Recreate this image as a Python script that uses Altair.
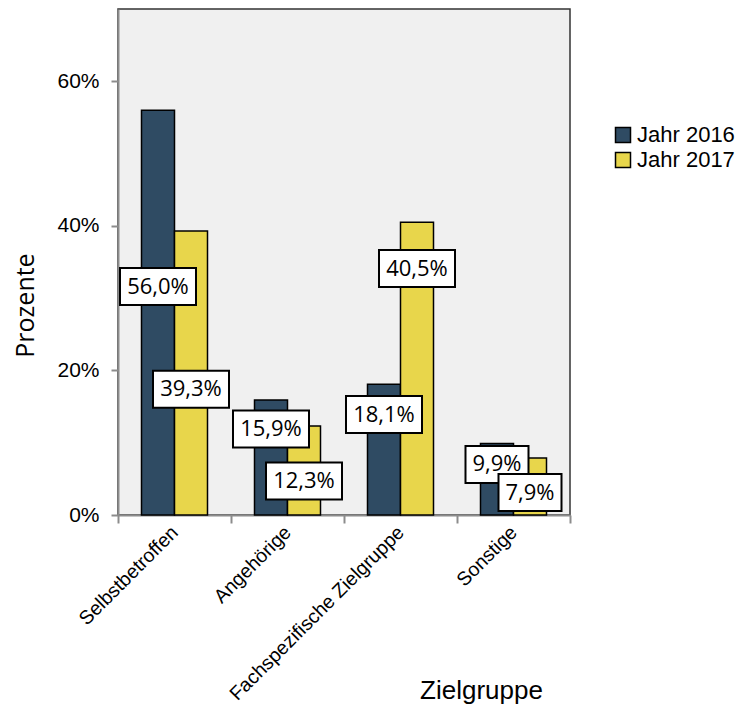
import altair as alt
import pandas as pd

categories = ["Selbstbetroffen", "Angehörige", "Fachspezifische Zielgruppe", "Sonstige"]
series = ["Jahr 2016", "Jahr 2017"]
values_2016 = [56.0, 15.9, 18.1, 9.9]
values_2017 = [39.3, 12.3, 40.5, 7.9]
# where the value boxes sit (in percent units)
label_y_2016 = [31.6, 11.9, 13.9, 7.0]
label_y_2017 = [17.4, 4.7, 34.1, 3.1]
y_ticks = [0, 20, 40, 60]

rows = []
for i, c in enumerate(categories):
    for s, vals, ly in ((series[0], values_2016, label_y_2016), (series[1], values_2017, label_y_2017)):
        v = vals[i]
        txt = f"{v:.1f}".replace(".", ",") + "%"
        rows.append({"Zielgruppe": c, "Jahr": s, "Wert": v, "LabelY": ly[i],
                     "Text": txt, "short": len(txt) <= 4})
df = pd.DataFrame(rows)

x_enc = alt.X("Zielgruppe:N", sort=categories, title="Zielgruppe",
              scale=alt.Scale(paddingInner=0, paddingOuter=0))
xoff = alt.XOffset("Jahr:N", sort=series, scale=alt.Scale(paddingInner=0, paddingOuter=0.712))
y_enc = alt.Y("Wert:Q", scale=alt.Scale(domain=[0, 70], nice=False), title="Prozente",
              axis=alt.Axis(values=y_ticks, labelExpr="datum.value + '%'"))
color = alt.Color("Jahr:N", sort=series,
                  scale=alt.Scale(domain=series, range=["#2f4b63", "#e8d64b"]),
                  legend=alt.Legend(title=None, orient="none", legendX=494, legendY=115,
                                    symbolType="square", symbolSize=225, symbolStrokeColor="black",
                                    symbolStrokeWidth=1.5, labelFont="Liberation Sans",
                                    labelFontSize=22, labelColor="black", labelOffset=3,
                                    rowPadding=3))

bars = alt.Chart(df).mark_bar(stroke="black", strokeWidth=1.5).encode(
    x=x_enc, xOffset=xoff, y=y_enc, color=color)

box_long = alt.Chart(df).transform_filter("!datum.short").mark_rect(
    width=76, height=37, fill="white", stroke="black", strokeWidth=2).encode(
    x=x_enc, xOffset=xoff, y=alt.Y("LabelY:Q"))
box_short = alt.Chart(df).transform_filter("datum.short").mark_rect(
    width=63, height=37, fill="white", stroke="black", strokeWidth=2).encode(
    x=x_enc, xOffset=xoff, y=alt.Y("LabelY:Q"))
texts = alt.Chart(df).mark_text(font="Open Sans", fontSize=22, color="black",
                                align="center", baseline="middle").encode(
    x=x_enc, xOffset=xoff, y=alt.Y("LabelY:Q"), text="Text:N")

chart = alt.layer(bars, box_long, box_short, texts).properties(
    width=452, height=506,
    autosize=alt.AutoSizeParams(type="none"),
    padding={"left": 118, "top": 9, "right": 170, "bottom": 198},
).configure_view(fill="#f0f0f0", stroke="#333333", strokeWidth=1.5
).configure_axis(
    grid=False, labelColor="black", tickColor="#8c8c8c", tickWidth=2,
    domainColor="#8c8c8c", domainWidth=2, titleFontWeight="normal", titleColor="black",
    titleAlign="center", titleBaseline="middle"
).configure_axisX(
    labelAngle=-45, labelFont="Liberation Sans", labelFontSize=19.5, labelLimit=0,
    labelAlign="right", labelBaseline="middle", tickSize=8,
    labelPadding=6, tickBand="extent", titleFont="Liberation Sans", titleFontSize=26,
    titleX=363, titleY=175
).configure_axisY(
    labelFont="Liberation Sans", labelFontSize=21, labelPadding=12, tickSize=7,
    titleFont="Open Sans", titleFontSize=25, titleAngle=-90, titleX=-93, titleY=296
)

chart.save("out.html", embed_options={"renderer": "svg", "actions": False})
